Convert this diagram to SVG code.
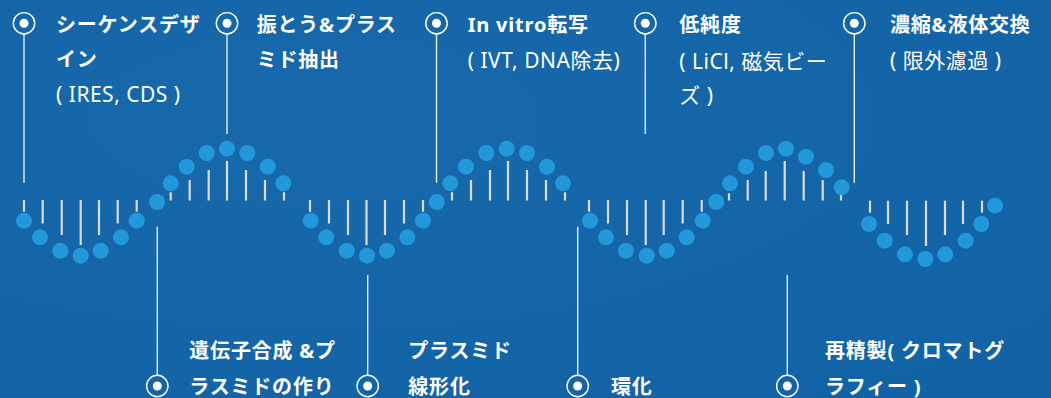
<svg xmlns="http://www.w3.org/2000/svg" width="1051" height="398" viewBox="0 0 1051 398">
<defs>
<radialGradient id="bg" cx="0.3" cy="0.3" r="0.9">
<stop offset="0" stop-color="#1769ab"/>
<stop offset="1" stop-color="#1263a5"/>
</radialGradient>
<style>
.b{font-family:"Noto Sans","Noto Sans CJK JP",sans-serif;font-weight:700;font-size:20px;fill:#ffffff;letter-spacing:0.8px}
.r{font-family:"Noto Sans","Noto Sans CJK JP",sans-serif;font-weight:400;font-size:21px;fill:#ffffff;letter-spacing:0.5px}
.ring{fill:none;stroke:#ffffff;stroke-width:1.4}
.pt{fill:#ffffff}
.ln{stroke:#e8eef5;stroke-width:1.4;fill:none}
.dot{fill:#2297d9}
.bar{stroke:#d9dde1;stroke-width:2.2}
</style>
</defs>
<rect width="1051" height="398" fill="url(#bg)"/>

<g id="wave">
<g class="bar">
<line x1="24" y1="200" x2="24" y2="211.7"/><line x1="42.7" y1="200" x2="42.7" y2="223.5"/><line x1="61.7" y1="200" x2="61.7" y2="235"/><line x1="80.7" y1="200" x2="80.7" y2="245"/><line x1="99" y1="200" x2="99" y2="235"/><line x1="117.7" y1="200" x2="117.7" y2="223.5"/><line x1="136.7" y1="200" x2="136.7" y2="211.7"/>
<line x1="170.7" y1="192.3" x2="170.7" y2="200.5"/><line x1="189.7" y1="180" x2="189.7" y2="200.5"/><line x1="208.7" y1="170" x2="208.7" y2="200.5"/><line x1="227" y1="161" x2="227" y2="200.5"/><line x1="246" y1="170" x2="246" y2="200.5"/><line x1="265" y1="180" x2="265" y2="200.5"/><line x1="284" y1="192.3" x2="284" y2="200.5"/>
<line x1="310" y1="200" x2="310" y2="211.7"/><line x1="329" y1="200" x2="329" y2="223.5"/><line x1="348" y1="200" x2="348" y2="235"/><line x1="366.5" y1="200" x2="366.5" y2="245"/><line x1="385" y1="200" x2="385" y2="235"/><line x1="404" y1="200" x2="404" y2="223.5"/><line x1="423" y1="200" x2="423" y2="211.7"/>
<line x1="452" y1="192.3" x2="452" y2="200.5"/><line x1="471" y1="180" x2="471" y2="200.5"/><line x1="490" y1="170" x2="490" y2="200.5"/><line x1="508" y1="161" x2="508" y2="200.5"/><line x1="527" y1="170" x2="527" y2="200.5"/><line x1="546" y1="180" x2="546" y2="200.5"/><line x1="565" y1="192.3" x2="565" y2="200.5"/>
<line x1="589" y1="200" x2="589" y2="211.7"/><line x1="608" y1="200" x2="608" y2="223.5"/><line x1="627" y1="200" x2="627" y2="235"/><line x1="645.7" y1="200" x2="645.7" y2="245"/><line x1="663.7" y1="200" x2="663.7" y2="235"/><line x1="682.7" y1="200" x2="682.7" y2="223.5"/><line x1="701.7" y1="200" x2="701.7" y2="211.7"/>
<line x1="729" y1="193.3" x2="729" y2="200.5"/><line x1="747.7" y1="180" x2="747.7" y2="200.5"/><line x1="765.7" y1="171" x2="765.7" y2="200.5"/><line x1="784.7" y1="161" x2="784.7" y2="200.5"/><line x1="803.7" y1="171" x2="803.7" y2="200.5"/><line x1="822.7" y1="180" x2="822.7" y2="200.5"/><line x1="841" y1="195" x2="841" y2="200.5"/>
<line x1="870" y1="200.7" x2="870" y2="212.7"/><line x1="888" y1="200.7" x2="888" y2="224"/><line x1="907" y1="200.7" x2="907" y2="235"/><line x1="926" y1="200.7" x2="926" y2="246"/><line x1="945" y1="200.7" x2="945" y2="235"/><line x1="963" y1="200.7" x2="963" y2="224"/><line x1="982" y1="200.7" x2="982" y2="212.7"/>
</g>
<g class="dot">
<circle cx="24" cy="220.7" r="8"/><circle cx="40" cy="237.3" r="8"/><circle cx="60.3" cy="250.7" r="8"/><circle cx="80.7" cy="255.7" r="8"/><circle cx="100.7" cy="250.7" r="8"/><circle cx="121" cy="237.3" r="8"/><circle cx="136.7" cy="220.7" r="8"/><circle cx="157" cy="202" r="8"/><circle cx="170.7" cy="183.3" r="8"/><circle cx="186.7" cy="166.7" r="8"/><circle cx="206.7" cy="153" r="8"/><circle cx="227" cy="148.7" r="8"/><circle cx="247.3" cy="153" r="8"/><circle cx="267.7" cy="166.7" r="8"/><circle cx="283.3" cy="183.3" r="8"/>
<circle cx="310.7" cy="220.7" r="8"/><circle cx="326.3" cy="237.3" r="8"/><circle cx="346.7" cy="250.7" r="8"/><circle cx="367" cy="255.7" r="8"/><circle cx="387" cy="250.7" r="8"/><circle cx="407.3" cy="237.3" r="8"/><circle cx="423" cy="220.7" r="8"/><circle cx="436.7" cy="202" r="8"/><circle cx="450.3" cy="183.3" r="8"/><circle cx="466" cy="166.7" r="8"/><circle cx="486.3" cy="153" r="8"/><circle cx="506.7" cy="148.7" r="8"/><circle cx="527" cy="153" r="8"/><circle cx="547" cy="166.7" r="8"/><circle cx="563" cy="183.3" r="8"/>
<circle cx="590" cy="220.7" r="8"/><circle cx="606" cy="237.3" r="8"/><circle cx="626" cy="250.7" r="8"/><circle cx="646.7" cy="255.7" r="8"/><circle cx="666.7" cy="250.7" r="8"/><circle cx="686.7" cy="237.3" r="8"/><circle cx="702.7" cy="220.7" r="8"/><circle cx="716.3" cy="202" r="8"/><circle cx="730" cy="183.3" r="8"/><circle cx="746" cy="166.7" r="8"/><circle cx="766" cy="153" r="8"/><circle cx="786" cy="148.7" r="8"/><circle cx="806" cy="156.7" r="8"/><circle cx="826" cy="170" r="8"/><circle cx="841.7" cy="187.3" r="8"/>
<circle cx="869" cy="224" r="8"/><circle cx="884.7" cy="240.7" r="8"/><circle cx="905" cy="254.3" r="8"/><circle cx="925.3" cy="259" r="8"/><circle cx="945.3" cy="254.3" r="8"/><circle cx="965.7" cy="240.7" r="8"/><circle cx="981.3" cy="224" r="8"/><circle cx="995" cy="205.7" r="8"/>
</g>
</g>

<g id="connectors" class="ln">
<line x1="24" y1="34" x2="24" y2="182.7"/>
<line x1="227" y1="34" x2="227" y2="134"/>
<line x1="436.5" y1="34" x2="436.5" y2="182.7"/>
<line x1="645.3" y1="34" x2="645.3" y2="134"/>
<line x1="854.3" y1="34" x2="854.3" y2="182.7"/>
<line x1="157.3" y1="226.7" x2="157.3" y2="375"/>
<line x1="367.7" y1="275" x2="367.7" y2="375"/>
<line x1="577.7" y1="226.7" x2="577.7" y2="375"/>
<line x1="787.3" y1="275" x2="787.3" y2="375"/>
</g>

<g id="n1">
<circle class="ring" cx="24" cy="23.3" r="10.7"/><circle class="pt" cx="24" cy="23.3" r="4.5"/>
<text class="b" x="56" y="31.5">シーケンスデザ</text>
<text class="b" x="56" y="66.5">イン</text>
<text class="r" x="56" y="101.7">( IRES, CDS )</text>
</g>
<g id="n2">
<circle class="ring" cx="227" cy="23.3" r="10.7"/><circle class="pt" cx="227" cy="23.3" r="4.5"/>
<text class="b" x="256.7" y="31.5">振とう&amp;プラス</text>
<text class="b" x="256.7" y="67">ミド抽出</text>
</g>
<g id="n3">
<circle class="ring" cx="436.5" cy="23.3" r="10.7"/><circle class="pt" cx="436.5" cy="23.3" r="4.5"/>
<text class="b" x="467.7" y="32">In vitro転写</text>
<text class="r" x="467.7" y="68">( IVT, DNA除去)</text>
</g>
<g id="n4">
<circle class="ring" cx="645.3" cy="23.3" r="10.7"/><circle class="pt" cx="645.3" cy="23.3" r="4.5"/>
<text class="b" x="679.3" y="31.5">低純度</text>
<text class="r" x="679.3" y="68.5">( LiCl, 磁気ビー</text>
<text class="r" x="679.3" y="102.5">ズ )</text>
</g>
<g id="n5">
<circle class="ring" cx="854.3" cy="23.3" r="10.7"/><circle class="pt" cx="854.3" cy="23.3" r="4.5"/>
<text class="b" x="890" y="31.5">濃縮&amp;液体交換</text>
<text class="r" x="890" y="68">( 限外濾過 )</text>
</g>
<g id="n6">
<circle class="ring" cx="157.3" cy="386" r="10.7"/><circle class="pt" cx="157.3" cy="386" r="4.5"/>
<text class="b" x="189.3" y="358">遺伝子合成 &amp;プ</text>
<text class="b" x="189.3" y="393.5">ラスミドの作り</text>
</g>
<g id="n7">
<circle class="ring" cx="367.7" cy="386" r="10.7"/><circle class="pt" cx="367.7" cy="386" r="4.5"/>
<text class="b" x="408.3" y="358">プラスミド</text>
<text class="b" x="408.3" y="393.5">線形化</text>
</g>
<g id="n8">
<circle class="ring" cx="577.7" cy="386" r="10.7"/><circle class="pt" cx="577.7" cy="386" r="4.5"/>
<text class="b" x="611" y="393.5">環化</text>
</g>
<g id="n9">
<circle class="ring" cx="787.3" cy="386" r="10.7"/><circle class="pt" cx="787.3" cy="386" r="4.5"/>
<text class="b" x="825" y="358">再精製( クロマトグ</text>
<text class="b" x="825" y="393.5">ラフィー )</text>
</g>
</svg>
